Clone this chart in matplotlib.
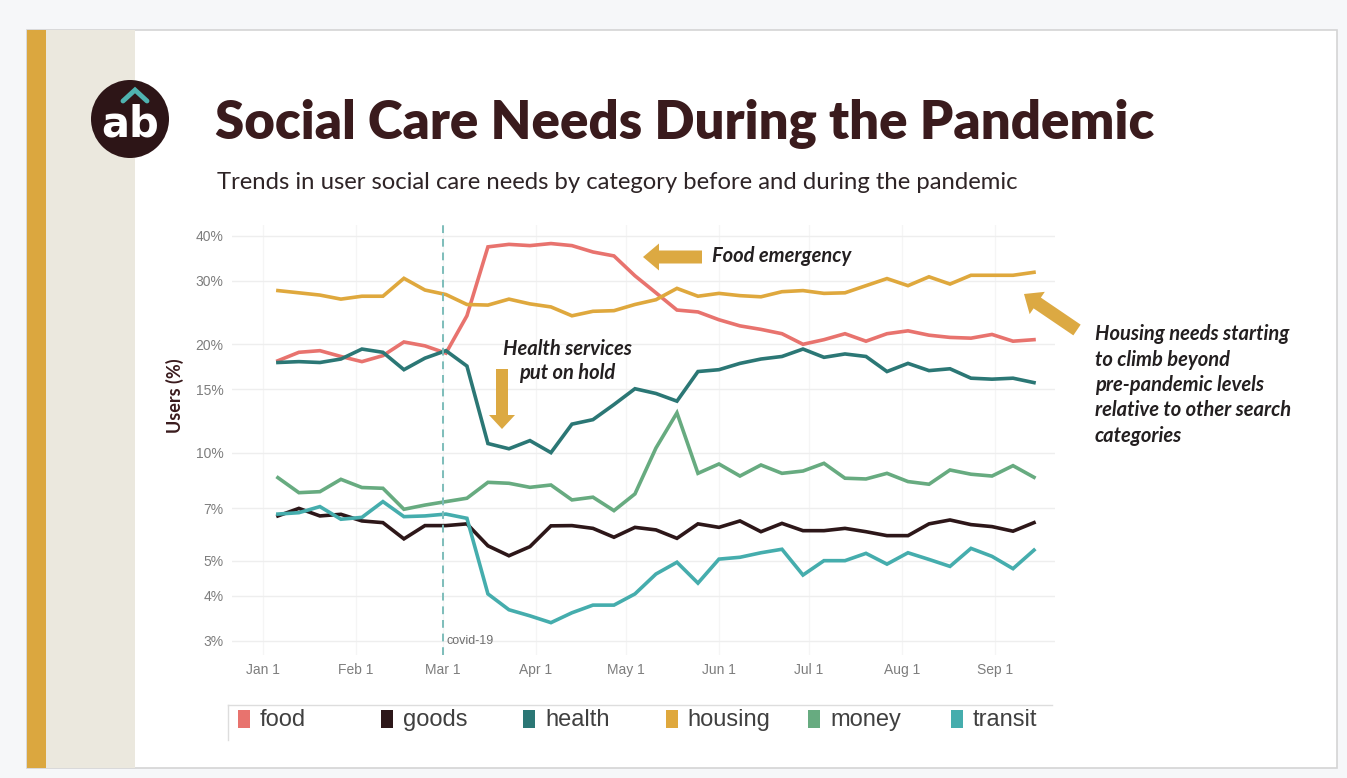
import numpy as np
import pandas as pd
import matplotlib
matplotlib.use('Agg')
import matplotlib.pyplot as plt
import matplotlib.dates as mdates
from matplotlib.patches import Rectangle, Circle, Polygon
from matplotlib.ticker import FixedLocator, NullLocator

# weekly values (%), Mondays from Jan 6 2020
dates = pd.date_range('2020-01-06', periods=37, freq='7D')

food = [18.0, 19.0, 19.2, 18.5, 17.9, 18.6, 20.3, 19.8, 18.9, 24.0,
        37.3, 37.9, 37.6, 38.1, 37.6, 36.1, 35.2, 31.0, 27.8, 24.9,
        24.6, 23.4, 22.5, 22.0, 21.4, 20.0, 20.6, 21.4, 20.4, 21.4,
        21.8, 21.2, 20.9, 20.8, 21.3, 20.4, 20.6]
goods = [6.67, 7.0, 6.67, 6.74, 6.46, 6.39, 5.76, 6.27, 6.27, 6.34,
         5.51, 5.17, 5.48, 6.26, 6.27, 6.16, 5.82, 6.2, 6.1, 5.78,
         6.34, 6.2, 6.46, 6.03, 6.36, 6.07, 6.07, 6.16, 6.03, 5.88,
         5.88, 6.34, 6.5, 6.31, 6.23, 6.05, 6.39]
health = [17.8, 17.9, 17.8, 18.2, 19.4, 19.0, 17.0, 18.3, 19.2, 17.4,
          10.6, 10.25, 10.8, 10.0, 12.0, 12.35, 13.6, 15.05, 14.6, 13.9,
          16.8, 17.0, 17.7, 18.2, 18.5, 19.4, 18.4, 18.8, 18.5, 16.8,
          17.7, 16.9, 17.1, 16.1, 16.0, 16.1, 15.65]
housing = [28.2, 27.8, 27.4, 26.7, 27.2, 27.2, 30.5, 28.3, 27.5, 25.8,
           25.7, 26.7, 25.9, 25.4, 24.0, 24.7, 24.8, 25.8, 26.6, 28.6,
           27.2, 27.7, 27.3, 27.1, 28.0, 28.2, 27.7, 27.8, 29.1, 30.45,
           29.1, 30.8, 29.4, 31.1, 31.1, 31.1, 31.7]
money = [8.52, 7.74, 7.79, 8.43, 8.0, 7.96, 6.96, 7.15, 7.31, 7.47,
         8.27, 8.22, 8.01, 8.13, 7.39, 7.52, 6.9, 7.68, 10.3, 12.9,
         8.76, 9.3, 8.61, 9.24, 8.76, 8.89, 9.34, 8.49, 8.45, 8.76,
         8.31, 8.17, 8.95, 8.71, 8.61, 9.2, 8.54]
transit = [6.75, 6.81, 7.08, 6.53, 6.61, 7.31, 6.64, 6.67, 6.75, 6.57,
           4.05, 3.66, 3.52, 3.37, 3.59, 3.77, 3.77, 4.05, 4.6, 4.96,
           4.34, 5.06, 5.12, 5.27, 5.39, 4.57, 5.01, 5.01, 5.25, 4.9,
           5.27, 5.05, 4.83, 5.42, 5.15, 4.76, 5.36]

categories = ['food', 'goods', 'health', 'housing', 'money', 'transit']
series = [food, goods, health, housing, money, transit]
colors = ['#e8736e', '#2d1719', '#2b7775', '#dfa83d', '#67ab80', '#45adad']

y_ticks = [3, 4, 5, 7, 10, 15, 20, 30, 40]
month_ticks = pd.date_range('2020-01-01', '2020-09-01', freq='MS')
covid_date = pd.Timestamp('2020-03-01')

W, H = 1347, 778
fig = plt.figure(figsize=(W / 100, H / 100), dpi=100)
fig.patch.set_facecolor('#f6f7f9')


def box(l, t, r, b):
    return [l / W, 1 - b / H, (r - l) / W, (b - t) / H]


def px_axes(z):
    a = fig.add_axes([0, 0, 1, 1], zorder=z)
    a.set_xlim(0, W)
    a.set_ylim(H, 0)
    a.axis('off')
    a.patch.set_alpha(0)
    return a


def block_arrow(a, x0, y0, x1, y1, shaft=13, head_w=27, head_l=16, color='#dca942'):
    d = np.array([x1 - x0, y1 - y0], float)
    L = np.hypot(*d)
    u = d / L
    n = np.array([-u[1], u[0]])
    p0 = np.array([x0, y0], float)
    hb = p0 + u * (L - head_l)
    pts = [p0 + n * shaft / 2, hb + n * shaft / 2, hb + n * head_w / 2,
           np.array([x1, y1], float), hb - n * head_w / 2, hb - n * shaft / 2,
           p0 - n * shaft / 2]
    a.add_patch(Polygon(pts, closed=True, fc=color, ec='none'))


# background card
bg = px_axes(0)
bg.add_patch(Rectangle((27, 30), 1310, 738, fc='white', ec='#d4d4d4', lw=1.2))
bg.add_patch(Rectangle((27, 30), 19, 738, fc='#dba73f', ec='none'))
bg.add_patch(Rectangle((46, 30), 89, 738, fc='#ebe8de', ec='none'))

# logo
bg.add_patch(Circle((130, 119), 39, fc='#2d1517', ec='none'))
bg.text(130, 124, 'ab', color='white', fontsize=30, fontweight='bold',
        family='DejaVu Sans', ha='center', va='center')
bg.plot([123, 135, 147], [101, 90, 101], color='#4fb3b0', lw=3.5,
        solid_capstyle='round', solid_joinstyle='miter')

# titles
bg.text(215, 124, 'Social Care Needs During the Pandemic', fontsize=38,
        fontweight='heavy', family=['Lato', 'DejaVu Sans'], color='#3a1b1d',
        ha='left', va='center')
bg.text(217, 182, 'Trends in user social care needs by category before and during the pandemic',
        fontsize=17.2, family=['Lato', 'DejaVu Sans'], color='#2e2426',
        ha='left', va='center')

# chart
ax = fig.add_axes(box(232, 225, 1055, 655), zorder=1)
ax.set_facecolor('none')
for name, vals, c in zip(categories, series, colors):
    ax.plot(dates, vals, color=c, lw=2.6, solid_joinstyle='miter', label=name)

ax.set_yscale('log')
x_left = mdates.date2num(pd.Timestamp('2020-01-01')) - 10.3
x_right = mdates.date2num(pd.Timestamp('2020-01-01')) + 264
ax.set_xlim(x_left, x_right)
ax.set_ylim(2.74, 42.9)
ax.yaxis.set_major_locator(FixedLocator(y_ticks))
ax.yaxis.set_minor_locator(NullLocator())
ax.set_yticklabels([f'{t}%' for t in y_ticks])
ax.set_xticks(mdates.date2num(month_ticks))
ax.set_xticklabels([d.strftime('%b ') + str(d.day) for d in month_ticks])
ax.grid(axis='y', color='#eeeeee', lw=1)
ax.grid(axis='x', color='#f5f5f5', lw=1)
ax.set_axisbelow(True)
for s in ax.spines.values():
    s.set_visible(False)
ax.tick_params(length=0, labelsize=10, labelcolor='#7d7d7d', pad=6)
for lab in ax.get_xticklabels() + ax.get_yticklabels():
    lab.set_family(['Liberation Sans', 'DejaVu Sans'])

ax.axvline(mdates.date2num(covid_date), color='#7dbdba', lw=1.4, ls=(0, (4, 3)))
ax.text(mdates.date2num(covid_date) + 1.3, 3.0, 'covid-19', fontsize=9,
        color='#6f6f6f', family=['Liberation Sans', 'DejaVu Sans'], va='center')

# overlay: labels, annotations, legend
fg = px_axes(3)
fg.text(175, 396, 'Users (%)', rotation=90, fontsize=13, fontweight='bold',
        family=['Lato', 'DejaVu Sans'], color='#3a1b1d', ha='center', va='center')

ann = dict(fontsize=14.5, fontweight='bold', style='italic',
           family=['Lato', 'DejaVu Sans'], color='#231f20')
fg.text(712, 256, 'Food emergency', ha='left', va='center', **ann)
fg.text(567, 361, 'Health services\nput on hold', ha='center', va='center',
        linespacing=1.3, **ann)
fg.text(1095, 385, 'Housing needs starting\nto climb beyond\npre-pandemic levels\n'
        'relative to other search\ncategories', ha='left', va='center',
        linespacing=1.33, **ann)

block_arrow(fg, 702, 257, 643, 257)
block_arrow(fg, 502, 369, 502, 429, shaft=12, head_w=26, head_l=14)
block_arrow(fg, 1077, 330, 1024, 294)

# legend
fg.plot([228, 1052], [705, 705], color='#dddddd', lw=1)
fg.plot([228, 228], [705, 740], color='#dddddd', lw=1)
for i, (name, c) in enumerate(zip(categories, colors)):
    x0 = 238 + i * 142.5
    fg.add_patch(Rectangle((x0, 710), 12, 18, fc=c, ec='none'))
    fg.text(x0 + 22, 720, name, fontsize=17, color='#404040',
            family=['Liberation Sans', 'DejaVu Sans'], ha='left', va='center')

fig.savefig('out.png', dpi=100, facecolor=fig.get_facecolor())
